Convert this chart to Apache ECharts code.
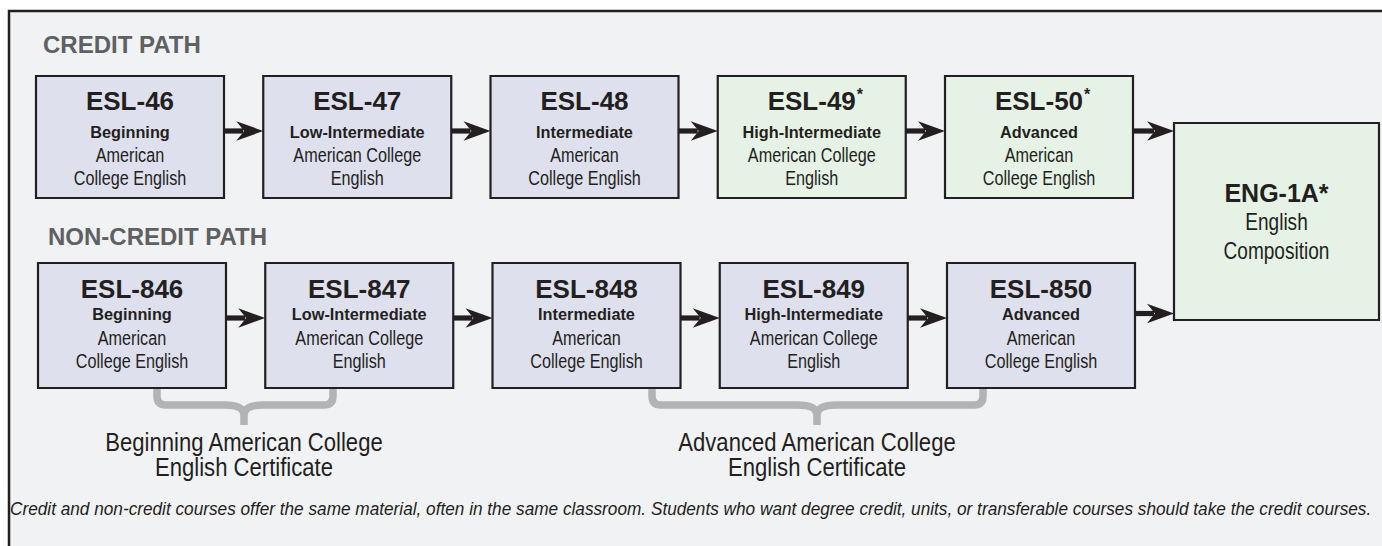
<!DOCTYPE html>
<html><head><meta charset="utf-8">
<script src="https://cdn.jsdelivr.net/npm/echarts@6/dist/echarts.min.js"></script>
<style>html,body{margin:0;padding:0;background:#fff}#c{width:1382px;height:546px}</style>
</head><body><div id="c"></div>
<script>
// ---------------- data ----------------
const pathTitles = ['CREDIT PATH', 'NON-CREDIT PATH'];
const levels = ['Beginning', 'Low-Intermediate', 'Intermediate', 'High-Intermediate', 'Advanced'];
const creditCourses = ['ESL-46', 'ESL-47', 'ESL-48', 'ESL-49', 'ESL-50'];
const nonCreditCourses = ['ESL-846', 'ESL-847', 'ESL-848', 'ESL-849', 'ESL-850'];
const transferable = [false, false, false, true, true];   // marked with * and shaded green
const descriptions = [
  ['American', 'College English'],
  ['American College', 'English'],
  ['American', 'College English'],
  ['American College', 'English'],
  ['American', 'College English']
];
const finalCourse = 'ENG-1A*';
const finalDescription = ['English', 'Composition'];
const certificates = [
  ['Beginning American College', 'English Certificate'],
  ['Advanced American College', 'English Certificate']
];
const certificateCourses = [[0, 1], [2, 4]];
const footnote = 'Credit and non-credit courses offer the same material, often in the same classroom. Students who want degree credit, units, or transferable courses should take the credit courses.';

// ---------------- layout & style ----------------
const FONT = '"Liberation Sans", Arial, Helvetica, sans-serif';
const INK = '#231f20', BLUE = '#dfe0ee', GREEN = '#e6f2e6', HEAD = '#5f6062', BRACE = '#b2b3b5', BG = '#f1f2f4';
const ROWS = [
  {top: 76, h: 122, dx: 0, title: 25, level: 56, l1: 79.5, l2: 102.5, arrow: 55, finalArrow: 55, headX: 43, headY: 44.5},
  {top: 263, h: 125, dx: 2, title: 26, level: 51, l1: 75, l2: 98, arrow: 55, finalArrow: 50.5, headX: 48, headY: 236}
];
const COL0 = 36, COL_STEP = 227.25, BOX_W = 188;
const FINAL = {x: 1174, y: 123, w: 205, h: 197};
const BRACES = [{x1: 157, x2: 333, cx: 244}, {x1: 652, x2: 983, cx: 817}];
const BRACE_TOP = 388, BRACE_H = 405, BRACE_BOTTOM = 425;
const NARROW = 0.81;

const mctx = document.createElement('canvas').getContext('2d');
function tw(text, font) { mctx.font = font; return mctx.measureText(text).width; }

function txt(x, y, text, font, o) {
  o = o || {};
  return {
    type: 'text', x: x, y: y, scaleX: o.sx || 1,
    style: {text: text, x: 0, y: 0, font: font, fill: o.fill || INK,
      align: o.align || 'center', verticalAlign: 'middle',
      textAlign: o.align || 'center', textVerticalAlign: 'middle'}
  };
}

const TITLE_FONT = 'bold 26px ' + FONT;
const STAR_FONT = 'bold 16px ' + FONT;
const LEVEL_FONT = 'bold 16.3px ' + FONT;
const BODY_FONT = '20px ' + FONT;

function boxItem(params, api) {
  const i = api.value(0), r = api.value(1);
  const R = ROWS[r];
  const left = COL0 + i * COL_STEP + R.dx;
  const p0 = api.coord([left, R.top]);
  const p1 = api.coord([left + BOX_W, R.top + R.h]);
  const star = r === 0 && transferable[i];
  const code = (r === 0 ? creditCourses : nonCreditCourses)[i];
  const cx = (p0[0] + p1[0]) / 2;
  const y = t => api.coord([0, R.top + t])[1];
  const children = [
    {type: 'rect', shape: {x: p0[0], y: p0[1], width: p1[0] - p0[0], height: p1[1] - p0[1]},
      style: {fill: star ? GREEN : BLUE, stroke: INK, lineWidth: 2.2}},
    txt(cx, y(R.title), code, TITLE_FONT),
    txt(cx, y(R.level), levels[i], LEVEL_FONT),
    txt(cx, y(R.l1), descriptions[i][0], BODY_FONT, {sx: NARROW}),
    txt(cx, y(R.l2), descriptions[i][1], BODY_FONT, {sx: NARROW})
  ];
  if (star) {
    children.push(txt(cx + tw(code, TITLE_FONT) / 2 + 1, y(R.title - 7), '*', STAR_FONT, {align: 'left'}));
  }
  return {type: 'group', children: children};
}

function finalItem(params, api) {
  const p0 = api.coord([FINAL.x, FINAL.y]);
  const p1 = api.coord([FINAL.x + FINAL.w, FINAL.y + FINAL.h]);
  const cx = (p0[0] + p1[0]) / 2;
  return {type: 'group', children: [
    {type: 'rect', shape: {x: p0[0], y: p0[1], width: p1[0] - p0[0], height: p1[1] - p0[1]},
      style: {fill: GREEN, stroke: INK, lineWidth: 2.2}},
    txt(cx, api.coord([0, 193])[1], finalCourse, 'bold 25px ' + FONT),
    txt(cx, api.coord([0, 222])[1], finalDescription[0], '23.5px ' + FONT, {sx: NARROW}),
    txt(cx, api.coord([0, 251])[1], finalDescription[1], '23.5px ' + FONT, {sx: NARROW})
  ]};
}

function arrowItem(params, api) {
  const i = api.value(0), r = api.value(1);
  const R = ROWS[r];
  const x1 = COL0 + i * COL_STEP + R.dx + BOX_W;
  const last = i === 4;
  const x2 = last ? FINAL.x : COL0 + (i + 1) * COL_STEP + R.dx;
  const yy = R.top + (last ? R.finalArrow : R.arrow);
  const a = api.coord([x1, yy]), b = api.coord([x2, yy]);
  const y = a[1];
  return {type: 'group', children: [
    {type: 'rect', shape: {x: a[0], y: y - 2.6, width: (b[0] - 20) - a[0], height: 5.2}, style: {fill: INK}},
    {type: 'polygon', shape: {points: [[b[0], y], [b[0] - 27, y - 9.8], [b[0] - 19, y], [b[0] - 27, y + 9.8]]}, style: {fill: INK}}
  ]};
}

function braceItem(params, api) {
  const k = api.value(0);
  const B = BRACES[k];
  const P = (x, y) => api.coord([x, y]);
  const rr = 9, c = 20;
  const pts = {
    a: P(B.x1, BRACE_TOP), b: P(B.x1, BRACE_H - rr), q1: P(B.x1, BRACE_H), b2: P(B.x1 + rr, BRACE_H),
    c1: P(B.cx - c, BRACE_H), c1a: P(B.cx - 6, BRACE_H), c1b: P(B.cx, BRACE_H + 3), m: P(B.cx, BRACE_H + 11),
    bot: P(B.cx, BRACE_BOTTOM),
    c2b: P(B.cx, BRACE_H + 3), c2a: P(B.cx + 6, BRACE_H), c2: P(B.cx + c, BRACE_H),
    d: P(B.x2 - rr, BRACE_H), q2: P(B.x2, BRACE_H), e: P(B.x2, BRACE_H - rr), f: P(B.x2, BRACE_TOP)
  };
  const s = p => p[0] + ',' + p[1];
  const d = 'M' + s(pts.a) + 'L' + s(pts.b) + 'Q' + s(pts.q1) + ' ' + s(pts.b2) + 'L' + s(pts.c1) +
    'C' + s(pts.c1a) + ' ' + s(pts.c1b) + ' ' + s(pts.m) + 'L' + s(pts.bot) +
    'M' + s(pts.m) + 'C' + s(pts.c2b) + ' ' + s(pts.c2a) + ' ' + s(pts.c2) + 'L' + s(pts.d) +
    'Q' + s(pts.q2) + ' ' + s(pts.e) + 'L' + s(pts.f);
  const cert = certificates[k];
  const cfont = '26px ' + FONT;
  return {type: 'group', children: [
    {type: 'path', shape: {pathData: d}, style: {fill: 'none', stroke: BRACE, lineWidth: 7.5, lineJoin: 'round'}},
    txt(P(B.cx, 0)[0], P(0, 442)[1], cert[0], cfont, {sx: 0.85}),
    txt(P(B.cx, 0)[0], P(0, 467)[1], cert[1], cfont, {sx: 0.85})
  ]};
}

function headItem(params, api) {
  const r = api.value(1);
  const p = api.coord([ROWS[r].headX, ROWS[r].headY]);
  return txt(p[0], p[1], pathTitles[r], 'bold 24px ' + FONT, {align: 'left', fill: HEAD});
}

const FOOT_FONT = 'italic 18.5px ' + FONT;
function footItem(params, api) {
  const p = api.coord([10, 509]);
  const sx = 1362 / tw(footnote, FOOT_FONT);
  return txt(p[0], p[1], footnote, FOOT_FONT, {align: 'left', sx: sx});
}

const courseData = [];
[0, 1].forEach(r => levels.forEach((l, i) => courseData.push([i, r])));

const chart = echarts.init(document.getElementById('c'), null, {renderer: 'svg'});
chart.setOption({
  animation: false,
  backgroundColor: '#ffffff',
  grid: {left: 0, right: 0, top: 0, bottom: 0},
  xAxis: {type: 'value', min: 0, max: 1382, show: false},
  yAxis: {type: 'value', min: 0, max: 546, inverse: true, show: false},
  graphic: [{type: 'rect', z: 0, shape: {x: 9, y: 11, width: 1420, height: 580},
    style: {fill: BG, stroke: INK, lineWidth: 2.5}}],
  series: [
    {type: 'custom', name: 'braces', clip: false, renderItem: braceItem, data: certificateCourses.map((c, k) => [k, 0])},
    {type: 'custom', name: 'arrows', clip: false, renderItem: arrowItem, data: courseData},
    {type: 'custom', name: 'courses', clip: false, renderItem: boxItem, data: courseData},
    {type: 'custom', name: 'final', clip: false, renderItem: finalItem, data: [[0, 0]]},
    {type: 'custom', name: 'paths', clip: false, renderItem: headItem, data: pathTitles.map((t, r) => [0, r])},
    {type: 'custom', name: 'note', clip: false, renderItem: footItem, data: [[0, 0]]}
  ]
});
</script></body></html>
